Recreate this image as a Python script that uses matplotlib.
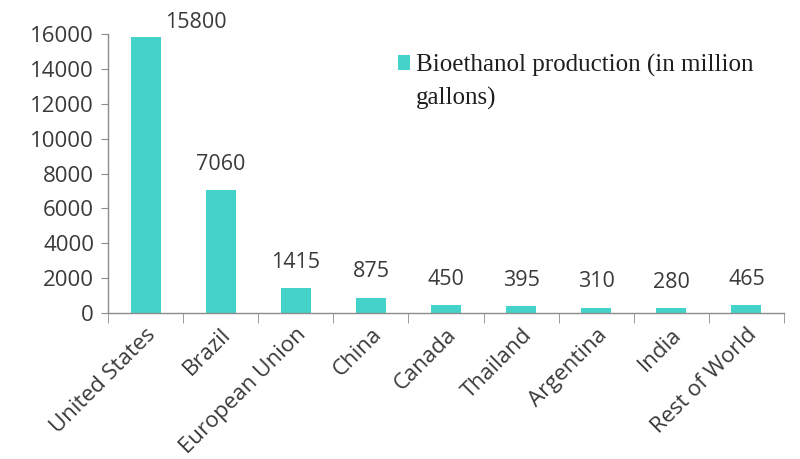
import matplotlib.pyplot as plt
import numpy as np

countries = ["United States", "Brazil", "European Union", "China", "Canada",
             "Thailand", "Argentina", "India", "Rest of World"]
production = [15800, 7060, 1415, 875, 450, 395, 310, 280, 465]
y_ticks = [0, 2000, 4000, 6000, 8000, 10000, 12000, 14000, 16000]
series_line1 = "Bioethanol production (in million"
series_line2 = "gallons)"

bar_color = "#44D3C8"
axis_color = "#8C8C8C"
text_color = "#3A3A3A"

fig = plt.figure(figsize=(8, 4.59), dpi=100)
ax = fig.add_axes([0.135, 0.318, 0.845, 0.608])

x = np.arange(len(countries))
ax.bar(x, production, width=0.4, color=bar_color, label=series_line1, zorder=2)

ax.set_xlim(-0.5, len(countries) - 0.5)
ax.set_ylim(0, 16000)
ax.set_yticks(y_ticks)
ax.set_yticklabels([str(v) for v in y_ticks], fontsize=16, color=text_color,
                   family="Open Sans")

# category labels centred under bars, separator ticks between categories
ax.set_xticks(x)
ax.set_xticklabels(countries, rotation=45, ha="right", rotation_mode="anchor",
                   fontsize=16, color=text_color, family="Open Sans")
ax.set_xticks(np.arange(-0.5, len(countries)), minor=True)
ax.tick_params(axis="x", which="major", length=0, pad=8)
ax.tick_params(axis="x", which="minor", length=7, color=axis_color, direction="out")
ax.tick_params(axis="y", length=5, color=axis_color, direction="out", pad=5)

for side in ["top", "right"]:
    ax.spines[side].set_visible(False)
for side in ["left", "bottom"]:
    ax.spines[side].set_color(axis_color)
    ax.spines[side].set_linewidth(1.0)

# value labels above each bar
for i, v in enumerate(production):
    dx = 36 if i == 0 else 0
    dy = 3 if i == 0 else 11
    ax.annotate(str(v), (x[i], v), xytext=(dx, dy), textcoords="offset points",
                ha="center", va="bottom", fontsize=15.5, color=text_color,
                family="Open Sans", annotation_clip=False)

leg_font = {"family": "Liberation Serif", "size": 18}
leg = ax.legend(loc="upper left", bbox_to_anchor=(0.395, 1.01), frameon=False,
                handlelength=0.5, handleheight=0.5, handletextpad=0.25,
                prop=leg_font)
leg_text = leg.get_texts()[0]
leg_text.set_color("#1E1E1E")

# second line of the series name, left-aligned under the first
fig.canvas.draw()
bb = leg_text.get_window_extent().transformed(fig.transFigure.inverted())
fig.text(bb.x0, bb.y0 - 0.022, series_line2, ha="left", va="top",
         color="#1E1E1E", **leg_font)

fig.savefig("out.png", dpi=100)
